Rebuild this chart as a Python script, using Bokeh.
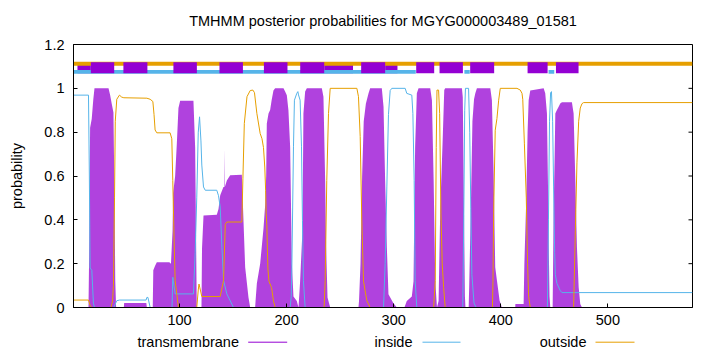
from bokeh.plotting import figure
from bokeh.models import FixedTicker, Range1d
from bokeh.layouts import column
from bokeh.embed import file_html
from bokeh.resources import INLINE
from bokeh.core.properties import value

# ---------------- data ----------------
title_text = "TMHMM posterior probabilities for MGYG000003489_01581"
seq_start = 1
seq_end = 579

tm_pos = [1, 15, 15.5, 16.5, 18, 19.5, 20.6, 33.7, 35.2, 36.7, 38.3, 39.3, 40, 40.8, 48, 48.3, 69, 69.5,
          75, 75.5, 77.2, 78.8, 90.5, 92, 93.5, 94, 95.9, 97.5, 99, 100.6, 113, 114.6, 115.5, 116.1,
          120.5, 121, 122.4, 134.8, 136.4, 138, 141, 141.8, 142, 142.3, 144.2, 147.3, 158.2, 159.7, 161.3,
          164.4, 166, 170.6, 171, 172.2, 175.3, 178.4, 180, 180.9, 181.5, 183.1, 184.6, 186, 187.7, 189.3,
          197.1, 198.6, 200.2, 201.7, 203.3, 204.3, 204.9, 206.4, 209.5, 211.1, 212.6, 214.8, 215.7, 217.3,
          218.9, 232.9, 234.4, 236, 236.9, 238.2, 240.7, 267.1, 267.6, 269, 270.5, 272, 274, 276.5, 278,
          288.9, 290.5, 292, 293.6, 295.1, 299.6, 302.9, 310, 312.2, 316.9, 318.5, 320, 321.6, 323.2,
          334.1, 335.7, 337.3, 338.8, 340.4, 341.9, 343.5, 344.4, 345.7, 347.2, 348.1, 363.7, 364.5, 365.5,
          366.5, 367, 370, 370.5, 372, 373.5, 375, 376.2, 377.7, 390.2, 391.7, 393.3, 394.8, 396.4, 398.9,
          401, 413.5, 413.6, 421.3, 422, 423.8, 425, 426, 427.5, 440, 441.5, 443.1, 444, 444.7, 445.5,
          446.2, 448.4, 449.3, 450.3, 450.9, 452.4, 454, 455.5, 457.1, 466.4, 468, 469.6, 471.1, 472.7,
          474.2, 475.8, 579]
tm_prob = [0, 0, 0.2, 0.82, 0.86, 0.95, 1.0, 1.0, 0.97, 0.93, 0.89, 0.5, 0.12, 0.0, 0.0, 0.02, 0.02, 0.0,
           0.0, 0.17, 0.19, 0.207, 0.207, 0.2, 0.35, 0.52, 0.6, 0.75, 0.91, 0.943, 0.943, 0.73, 0.3, 0.0,
           0.0, 0.27, 0.42, 0.423, 0.45, 0.512, 0.55, 0.55, 0.725, 0.55, 0.58, 0.603, 0.606, 0.4, 0.184,
           0.046, 0.0, 0.0, 0.03, 0.11, 0.2, 0.36, 0.47, 0.6, 0.84, 0.885, 0.901, 0.946, 0.99, 1.0,
           1.0, 0.985, 0.969, 0.9, 0.733, 0.4, 0.2, 0.05, 0.03, 0.0, 0.12, 0.35, 0.885, 0.985,
           1.0, 1.0, 0.962, 0.58, 0.275, 0.046, 0.0, 0.0, 0.03, 0.2, 0.6, 0.85, 0.93, 0.977, 1.0,
           1.0, 0.916, 0.58, 0.275, 0.06, 0.02, 0.0, 0.0, 0.03, 0.05, 0.12, 0.733, 0.977, 1.0,
           1.0, 0.946, 0.58, 0.123, 0.0, 0.03, 0.458, 0.58, 0.763, 0.992, 1.0, 1.0, 0.96, 0.5,
           0.05, 0.0, 0.0, 0.1, 0.45, 0.85, 0.95, 0.977, 1.0, 1.0, 0.946, 0.611, 0.184, 0.123, 0.031,
           0.0, 0.0, 0.016, 0.016, 0.2, 0.5, 0.8, 0.946, 0.99, 1.0, 0.977, 0.885, 0.58, 0.3, 0.05,
           0.0, 0.0, 0.42, 0.7, 0.885, 0.901, 0.916, 0.931, 0.936, 0.936, 0.885, 0.58, 0.275, 0.092,
           0.016, 0.0, 0.0]

in_pos = [1, 15, 15.8, 16.5, 18.1, 19.6, 20.6, 38.5, 41.4, 44, 68.8, 69.5, 70.5, 72.6, 93, 93.7, 95.9,
          113, 114.6, 116.1, 117.5, 118.7, 120, 120.8, 122.4, 124, 134.8, 136.4, 138, 139.6, 141.1, 144.2,
          150.4, 203.3, 204.3, 204.9, 206.4, 207.3, 209.5, 210.5, 211.1, 212.6, 213.9, 214.8, 215.7, 217.3,
          290.5, 292, 293.6, 295.1, 296.7, 298.2, 310.7, 312.2, 316.9, 317.9, 319.1, 320, 321.6,
          364.5, 365.5, 366.3, 367, 369.9, 371, 372, 373, 375, 377,
          443.5, 444.5, 445.5, 446.5, 447.3, 448.4, 449.3, 450.3, 450.9, 452.4, 455.5, 457.1, 579]
in_prob = [0.969, 0.969, 0.6, 0.18, 0.17, 0.02, 0.0, 0.0, 0.031, 0.034, 0.034, 0.046, 0.046, 0.0, 0.0, 0.138, 0.062,
           0.062, 0.25, 0.5, 0.8, 0.87, 0.76, 0.65, 0.55, 0.535, 0.535, 0.51, 0.458, 0.275, 0.123, 0.062,
           0.0, 0.0, 0.05, 0.184, 0.733, 0.946, 0.977, 0.985, 0.97, 0.946, 0.733, 0.397, 0.123, 0.0,
           0.0, 0.2, 0.55, 0.88, 0.99, 1.0, 1.0, 0.977, 0.969, 0.885, 0.58, 0.123, 0.0,
           0.0, 0.45, 0.9, 1.0, 1.0, 0.8, 0.45, 0.15, 0.02, 0.0,
           0.0, 0.4, 0.85, 0.98, 0.985, 0.85, 0.55, 0.25, 0.15, 0.11, 0.077, 0.068, 0.068]

out_pos = [1, 15, 16.5, 18, 36, 37.5, 38.3, 39.3, 40, 41.4, 43.9, 46, 48, 69.5, 72.6, 75.1, 76.2, 77.2,
           78.8, 91.2, 92.8, 93.7, 95, 95.9, 99, 116.1, 117.5, 118.2, 119, 120.8, 138, 141.1, 142.7,
           144.2, 158.2, 159.2, 160.5, 163, 166, 168.5, 170, 172.2, 175.3, 177, 178.4, 179.6, 180.4,
           180.9, 181.5, 182.5, 183.5, 186, 187.7, 189.3, 235, 236, 237.5, 239.1, 240.7, 265.6, 267.1,
           268.7, 270.2, 271.8, 274.9, 278, 337.3, 338.8, 339.7, 340.4, 341.9, 342.9, 344.1, 345.3,
           346.6, 348.1, 392.2, 392.7, 393.3, 394.8, 396.4, 398, 399.5, 415.1, 418.2, 419.8, 420.5,
           422, 423.8, 425, 426, 427.5, 468, 469.6, 471.1, 472.7, 474.2, 475.8, 477.3, 579]
out_prob = [0.034, 0.034, 0.01, 0.0, 0.0, 0.03, 0.1, 0.5, 0.85, 0.95, 0.969, 0.96, 0.957, 0.955, 0.95, 0.94, 0.88, 0.81,
            0.797, 0.797, 0.77, 0.58, 0.3, 0.123, 0.0, 0.0, 0.08, 0.107, 0.09, 0.05, 0.05, 0.123, 0.38,
            0.39, 0.39, 0.59, 0.84, 0.962, 0.99, 0.992, 0.98, 0.886, 0.794, 0.77, 0.73, 0.641, 0.535,
            0.43, 0.38, 0.18, 0.12, 0.09, 0.03, 0.0, 0.0, 0.123, 0.58, 0.885, 1.0, 1.0, 0.962,
            0.78, 0.4, 0.12, 0.031, 0.0, 0.0, 0.123, 0.73, 0.992, 0.992, 0.885, 0.428, 0.2,
            0.092, 0.0, 0.0, 0.12, 0.43, 0.809, 0.862, 0.946, 1.0, 1.0, 0.992, 0.977, 0.95,
            0.75, 0.5, 0.2, 0.05, 0.0, 0.0, 0.35, 0.66, 0.85, 0.91, 0.93, 0.935, 0.935]

# predicted topology bars at the top
helix_start = [17.2, 47.6, 94.3, 137.3, 178.8, 212.7, 269.6, 321, 342.8, 371.4, 425, 451.5]
helix_end = [39, 70, 116.2, 159.2, 200.8, 235.1, 292, 337.8, 364.6, 393.8, 443.7, 472.6]
helix_under_start = [4.7, 235.1, 292]
helix_under_end = [17.2, 262, 303.5]
inside_start = [1, 366, 444.6]
inside_end = [320.6, 371, 449.9]
outside_start = [1]
outside_end = [579]

x_ticks = [100, 200, 300, 400, 500]
y_ticks = [0, 0.2, 0.4, 0.6, 0.8, 1, 1.2]
y_tick_labels = ["0", "0.2", "0.4", "0.6", "0.8", "1", "1.2"]
legend_names = ["transmembrane", "inside", "outside"]

# ---------------- styling ----------------
FONT = "Liberation Sans"
FS = "14.5px"
C_TM = "#9400D3"
C_IN = "#56B4E9"
C_OUT = "#E69F00"
FRAME_L, FRAME_R = 73, 692   # frame pixel edges
TITLE_H, LEG_H = 34, 18


def strip(height):
    f = figure(width=720, height=height, x_range=Range1d(FRAME_L, FRAME_R), y_range=Range1d(0, height),
               output_backend="svg", toolbar_location=None, x_axis_type=None, y_axis_type=None,
               min_border_left=FRAME_L, min_border_right=720 - FRAME_R, min_border_top=0, min_border_bottom=0)
    f.grid.visible = False
    f.outline_line_color = None
    f.background_fill_color = "white"
    f.border_fill_color = "white"
    return f


# title strip (data coords == pixels)
tt = strip(TITLE_H)
tt.text(x=[(FRAME_L + FRAME_R) / 2], y=[TITLE_H - 20], text=[title_text], text_align="center",
        text_baseline="middle", text_font=value(FONT), text_font_size=FS, text_color="black")

p = figure(width=720, height=352 - TITLE_H - LEG_H, x_range=Range1d(seq_start, seq_end), y_range=Range1d(0, 1.2),
           output_backend="svg", toolbar_location=None,
           min_border_left=FRAME_L, min_border_right=720 - FRAME_R, min_border_top=10, min_border_bottom=27)
p.background_fill_color = "white"
p.border_fill_color = "white"
p.outline_line_color = "black"
p.outline_line_width = 1
p.grid.visible = False

# posterior curves
p.varea(x=tm_pos, y1=[0] * len(tm_pos), y2=tm_prob, fill_color=C_TM, fill_alpha=0.74)
p.line(in_pos, in_prob, line_color=C_IN, line_width=1)
p.line(out_pos, out_prob, line_color=C_OUT, line_width=1)

# topology bars
p.quad(left=helix_under_start, right=helix_under_end, bottom=1.0687, top=1.119,
       fill_color=C_TM, line_color=None)
p.quad(left=outside_start, right=outside_end, bottom=1.1034, top=1.1217,
       fill_color=C_OUT, line_color=None)
p.quad(left=inside_start, right=inside_end, bottom=1.0668, top=1.0838,
       fill_color=C_IN, line_color=None)
p.quad(left=helix_start, right=helix_end, bottom=1.0687, top=1.119,
       fill_color=C_TM, line_color=None)

# mirrored y ticks on the right border (inward)
tick_len = 4 * (seq_end - seq_start) / (FRAME_R - FRAME_L)
p.segment(x0=[seq_end] * len(y_ticks), y0=y_ticks, x1=[seq_end - tick_len] * len(y_ticks), y1=y_ticks,
          line_color="black", line_width=1)

# axes
p.xaxis.ticker = FixedTicker(ticks=x_ticks)
p.yaxis.ticker = FixedTicker(ticks=y_ticks)
p.yaxis.major_label_overrides = {t: s for t, s in zip(y_ticks, y_tick_labels)}
for ax in (p.xaxis[0], p.yaxis[0]):
    ax.major_tick_in = 4
    ax.major_tick_out = 0
    ax.minor_tick_line_color = None
    ax.axis_line_color = "black"
    ax.major_tick_line_color = "black"
    ax.major_label_text_font = FONT
    ax.major_label_text_font_size = FS
    ax.major_label_text_color = "black"
p.xaxis.major_label_standoff = 7
p.yaxis.major_label_standoff = 9
p.yaxis.axis_label = "probability"
p.yaxis.axis_label_text_font = FONT
p.yaxis.axis_label_text_font_size = FS
p.yaxis.axis_label_text_font_style = "normal"
p.yaxis.axis_label_text_color = "black"
p.yaxis.axis_label_standoff = 16

# legend strip below
lg = strip(LEG_H)
leg_text_right = [238.5, 412, 586]
leg_line_x0 = [247.7, 422, 595]
leg_line_x1 = [286.7, 460, 634]
leg_y = 10.3
lg.text(x=leg_text_right, y=[leg_y] * 3, text=legend_names, text_align="right",
        text_baseline="middle", text_font=value(FONT), text_font_size=FS, text_color="black")
lg.segment(x0=leg_line_x0, y0=[leg_y] * 3, x1=leg_line_x1, y1=[leg_y] * 3,
           line_color=[C_TM, C_IN, C_OUT], line_width=1)

layout = column(tt, p, lg, spacing=0)
open("out.html", "w").write(file_html(layout, INLINE))
